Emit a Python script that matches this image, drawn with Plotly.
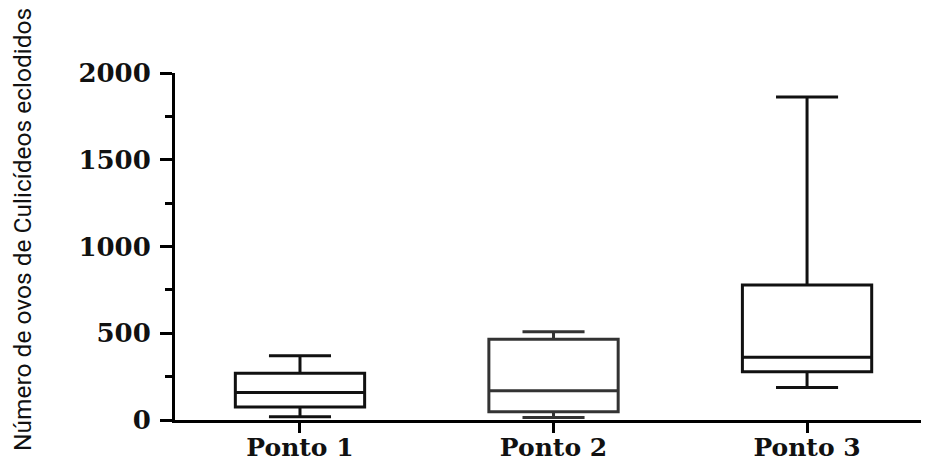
import plotly.graph_objects as go

categories = ["Ponto 1", "Ponto 2", "Ponto 3"]
q1 = [75, 48, 278]
median = [158, 169, 361]
q3 = [269, 465, 778]
lower = [19, 15, 188]
upper = [370, 509, 1862]
line_colors = ["#111111", "#333333", "#111111"]

y_ticks = [0, 500, 1000, 1500, 2000]

fig = go.Figure()
for i, c in enumerate(categories):
    fig.add_trace(go.Box(
        x=[c], q1=[q1[i]], median=[median[i]], q3=[q3[i]],
        lowerfence=[lower[i]], upperfence=[upper[i]],
        width=0.51, whiskerwidth=0.48,
        fillcolor="white", line=dict(color=line_colors[i], width=3),
        boxpoints=False, showlegend=False, hoverinfo="skip",
    ))

# page has an 8px body margin, so the figure is sized/offset to compensate
fig.update_layout(
    width=921, height=453,
    margin=dict(l=167, r=0, t=65, b=41),
    paper_bgcolor="white", plot_bgcolor="white",
    xaxis=dict(
        type="category", categoryorder="array", categoryarray=categories,
        range=[-0.493, 2.481], automargin=False,
        showline=True, linecolor="black", linewidth=3,
        ticks="outside", ticklen=10, tickwidth=3, tickcolor="black",
        showgrid=False, zeroline=False,
        ticklabelstandoff=-7,
        tickfont=dict(family="DejaVu Serif", size=25, color="#111111", weight="bold"),
    ),
    yaxis=dict(
        range=[0, 2000], automargin=False,
        tickvals=y_ticks, ticktext=[str(v) for v in y_ticks],
        showline=True, linecolor="black", linewidth=3,
        ticks="outside", ticklen=12, tickwidth=3, tickcolor="black",
        minor=dict(dtick=250, ticks="outside", ticklen=7, tickwidth=3, tickcolor="black", showgrid=False),
        showgrid=False, zeroline=False,
        ticklabelstandoff=4,
        tickfont=dict(family="DejaVu Serif", size=26, color="#111111", weight="bold"),
    ),
    annotations=[dict(
        text="Número de ovos de Culicídeos eclodidos",
        xref="paper", yref="paper",
        x=(14 - 167) / 754, y=(412 - 222) / 347,
        xanchor="center", yanchor="middle",
        textangle=-90, showarrow=False,
        font=dict(family="Roboto", size=24.5, color="#111111"),
    )],
)

fig.write_html("out.html")
